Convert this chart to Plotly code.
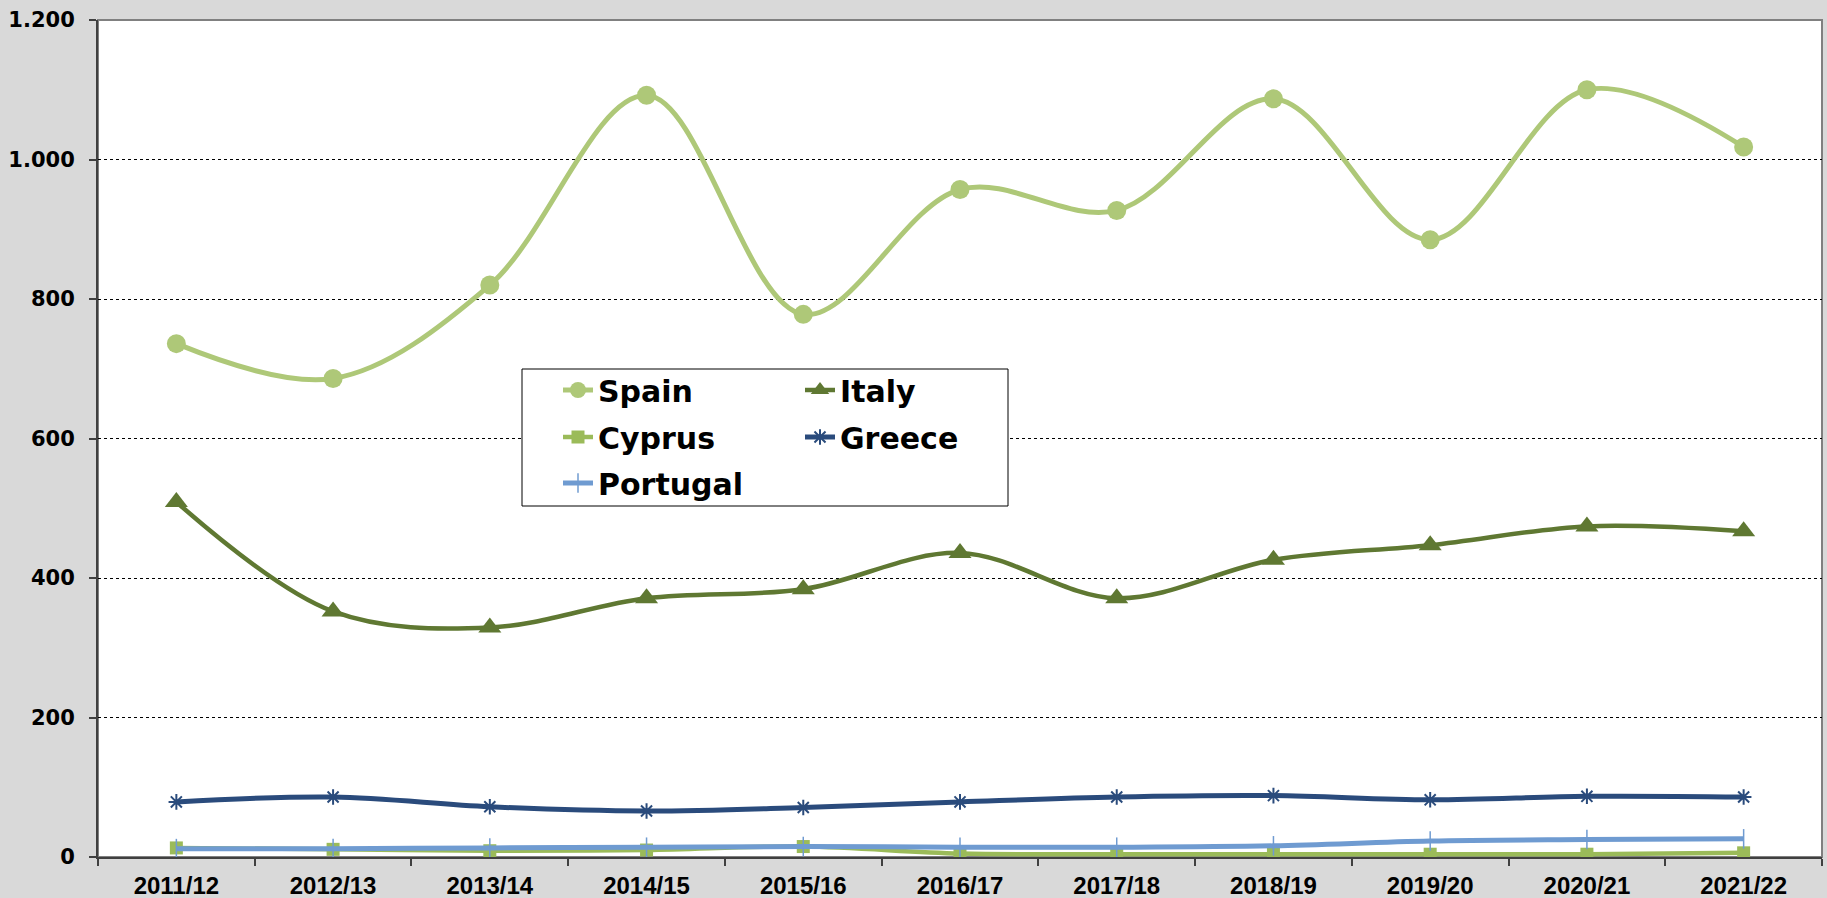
import plotly.graph_objects as go

seasons = ["2011/12", "2012/13", "2013/14", "2014/15", "2015/16", "2016/17",
           "2017/18", "2018/19", "2019/20", "2020/21", "2021/22"]
spain = [736, 686, 820, 1092, 778, 957, 927, 1087, 885, 1100, 1018]
italy = [509, 352, 329, 371, 384, 436, 371, 426, 447, 474, 467]
cyprus = [13, 11, 9, 10, 15, 5, 4, 4, 4, 4, 6]
greece = [79, 86, 72, 66, 71, 79, 86, 88, 82, 87, 86]
portugal = [12, 12, 13, 14, 15, 14, 14, 16, 23, 25, 26]

series = [
    ("Spain", spain, "#AEC878", dict(symbol="circle", size=19), 5, "legend"),
    ("Italy", italy, "#5F7832", dict(symbol="triangle-up", size=20), 4.5, "legend2"),
    ("Cyprus", cyprus, "#9BBB59", dict(symbol="square", size=13), 4.5, "legend3"),
    ("Greece", greece, "#2A4B7C", dict(symbol="asterisk-open", size=13,
                                        line=dict(width=2, color="#2A4B7C")), 5, "legend4"),
    ("Portugal", portugal, "#6F9BD1", dict(symbol="line-ns-open", size=14,
                                            line=dict(width=1.5, color="#6F9BD1")), 5, "legend5"),
]

fig = go.Figure()
for name, vals, color, marker, lw, lg in series:
    m = dict(color=color, **marker)
    fig.add_trace(go.Scatter(
        x=seasons, y=vals, name=name, mode="lines+markers",
        line=dict(color=color, width=lw, shape="spline", smoothing=1.0),
        marker=m, legend=lg,
    ))

W, H = 1827, 898
L, R, T, B = 98, 5, 20, 41
pw, ph = W - L - R, H - T - B

def px_x(x):
    return (x - L) / pw

def px_y(y):
    return (H - B - y) / ph

legend_font = dict(family="DejaVu Sans", size=30, color="black", weight="bold")
col1, col2 = 558, 800
rows = [390, 437, 483]
pos = {
    "legend": (col1, rows[0]),
    "legend2": (col2, rows[0]),
    "legend3": (col1, rows[1]),
    "legend4": (col2, rows[1]),
    "legend5": (col1, rows[2]),
}
legends = {}
for key, (lx, ly) in pos.items():
    legends[key] = dict(x=px_x(lx), y=px_y(ly), xanchor="left", yanchor="middle",
                        bgcolor="rgba(0,0,0,0)", borderwidth=0, font=legend_font,
                        itemsizing="trace")

fig.update_layout(
    width=W, height=H,
    margin=dict(l=L, r=R, t=T, b=B, pad=0, autoexpand=False),
    paper_bgcolor="#D9D9D9",
    plot_bgcolor="white",
    separators=",.",
    showlegend=True,
    **legends,
    xaxis=dict(
        type="category", tickson="boundaries", ticks="outside", ticklen=7,
        tickcolor="#404040", tickwidth=1.5,
        showline=True, linecolor="#404040", linewidth=2,
        showgrid=False, range=[-0.5, 10.5],
        tickfont=dict(family="Liberation Sans", size=24, color="black", weight="bold"),
        ticklabelstandoff=6,
        fixedrange=True,
    ),
    yaxis=dict(
        range=[0, 1200], dtick=200, tickformat=",d",
        ticks="outside", ticklen=7, tickcolor="#404040", tickwidth=1.5,
        showline=True, linecolor="#404040", linewidth=2,
        showgrid=True, gridcolor="#000000", gridwidth=1, griddash="dot",
        zeroline=False,
        tickfont=dict(family="DejaVu Sans", size=21, color="black", weight="bold"),
        ticklabelstandoff=10,
        fixedrange=True,
    ),
    shapes=[
        dict(type="rect", xref="paper", yref="paper", x0=0, x1=1, y0=0, y1=1,
             line=dict(color="#808080", width=2), layer="below"),
        dict(type="rect", xref="paper", yref="paper",
             x0=px_x(522), x1=px_x(1008), y0=px_y(506), y1=px_y(369),
             fillcolor="white", line=dict(color="black", width=1), layer="above"),
    ],
)

fig.write_html(
    "out.html",
    config={"displayModeBar": False},
    post_script="document.body.style.margin='0';document.body.style.overflow='hidden';",
)
